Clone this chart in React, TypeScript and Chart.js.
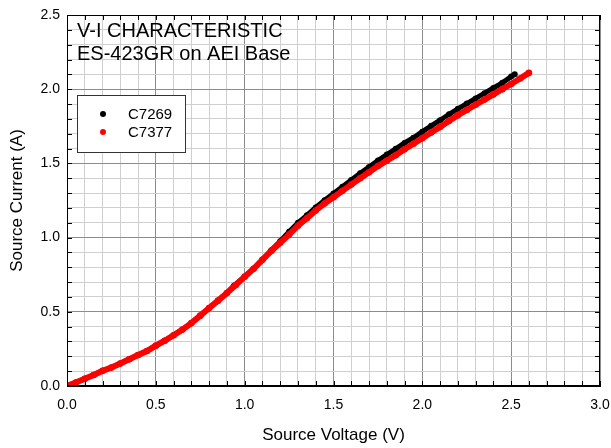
import React, { useEffect, useRef } from "react";
import { Chart, registerables } from "chart.js";

Chart.register(...registerables);

const titleLines = ["V-I CHARACTERISTIC", "ES-423GR on AEI Base"];
const xAxisTitle = "Source Voltage (V)";
const yAxisTitle = "Source Current (A)";
const seriesNames = ["C7269", "C7377"];
const seriesColors = ["#000000", "#ff0000"];

const voltsC7269 = [
  0, 0.05, 0.1, 0.15, 0.2, 0.25, 0.3, 0.35, 0.4, 0.45, 0.5, 0.55, 0.6, 0.65,
  0.7, 0.75, 0.8, 0.85, 0.9, 0.94, 1.0, 1.05, 1.1, 1.15, 1.2, 1.25, 1.3, 1.35,
  1.4, 1.45, 1.5, 1.55, 1.6, 1.65, 1.7, 1.75, 1.8, 1.85, 1.9, 1.95, 2.0, 2.05,
  2.1, 2.15, 2.2, 2.25, 2.3, 2.35, 2.4, 2.45, 2.5, 2.52,
];
const ampsC7269 = [
  0, 0.024, 0.049, 0.074, 0.102, 0.125, 0.152, 0.18, 0.209, 0.236, 0.272,
  0.305, 0.342, 0.38, 0.424, 0.474, 0.525, 0.575, 0.626, 0.676, 0.737, 0.79,
  0.852, 0.915, 0.975, 1.04, 1.1, 1.15, 1.203, 1.252, 1.297, 1.342, 1.388,
  1.433, 1.476, 1.52, 1.56, 1.598, 1.638, 1.673, 1.714, 1.753, 1.791, 1.831,
  1.868, 1.903, 1.938, 1.973, 2.008, 2.043, 2.085, 2.1,
];

const voltsC7377 = [
  0, 0.05, 0.1, 0.15, 0.2, 0.25, 0.3, 0.35, 0.4, 0.45, 0.5, 0.55, 0.6, 0.65,
  0.7, 0.75, 0.8, 0.85, 0.9, 0.95, 1.0, 1.05, 1.1, 1.15, 1.2, 1.25, 1.3, 1.35,
  1.4, 1.45, 1.5, 1.55, 1.6, 1.65, 1.7, 1.75, 1.8, 1.85, 1.9, 1.95, 2.0, 2.05,
  2.1, 2.15, 2.2, 2.25, 2.3, 2.35, 2.4, 2.45, 2.5, 2.55, 2.6,
];
const ampsC7377 = [
  0, 0.024, 0.049, 0.074, 0.102, 0.125, 0.152, 0.18, 0.209, 0.236, 0.272,
  0.305, 0.342, 0.38, 0.424, 0.474, 0.525, 0.575, 0.626, 0.68, 0.737, 0.79,
  0.85, 0.91, 0.965, 1.02, 1.08, 1.13, 1.183, 1.23, 1.272, 1.315, 1.357, 1.4,
  1.44, 1.482, 1.518, 1.555, 1.595, 1.632, 1.67, 1.708, 1.746, 1.786, 1.825,
  1.86, 1.895, 1.93, 1.965, 2.0, 2.035, 2.072, 2.11,
];

const xMajorTicks = [0, 0.5, 1.0, 1.5, 2.0, 2.5, 3.0];
const yMajorTicks = [0, 0.5, 1.0, 1.5, 2.0, 2.5];

const FONT = "'Liberation Sans', Arial, Helvetica, sans-serif";

const isMajor = (v: number, majors: number[]) =>
  majors.some((m) => Math.abs(m - v) < 1e-6);

const decorPlugin = {
  id: "decor",
  afterDraw(chart: any) {
    const { ctx, chartArea } = chart;
    const { left, right, top, bottom } = chartArea;
    const xs = chart.scales.x;
    const ys = chart.scales.y;
    ctx.save();
    // frame
    ctx.strokeStyle = "#000";
    ctx.lineWidth = 1;
    ctx.strokeRect(left + 0.5, top + 0.5, right - left - 1, bottom - top - 1);
    // inward ticks
    ctx.beginPath();
    const tl = 5;
    xs.ticks.forEach((t: any) => {
      const px = Math.round(xs.getPixelForValue(t.value)) + 0.5;
      ctx.moveTo(px, bottom);
      ctx.lineTo(px, bottom - tl);
      ctx.moveTo(px, top);
      ctx.lineTo(px, top + tl);
    });
    ys.ticks.forEach((t: any) => {
      const py = Math.round(ys.getPixelForValue(t.value)) + 0.5;
      ctx.moveTo(left, py);
      ctx.lineTo(left + tl, py);
      ctx.moveTo(right, py);
      ctx.lineTo(right - tl, py);
    });
    ctx.stroke();

    // title lines
    ctx.fillStyle = "#000";
    ctx.font = `20px ${FONT}`;
    ctx.textAlign = "left";
    ctx.textBaseline = "alphabetic";
    ctx.fillText(titleLines[0], left + 10, top + 22);
    ctx.fillText(titleLines[1], left + 10, top + 45);

    // legend box
    const bx = left + 10;
    const by = top + 80;
    const bw = 108;
    const bh = 57;
    ctx.fillStyle = "#fff";
    ctx.fillRect(bx, by, bw, bh);
    ctx.strokeStyle = "#333";
    ctx.lineWidth = 1;
    ctx.strokeRect(bx + 0.5, by + 0.5, bw, bh);
    ctx.font = `15px ${FONT}`;
    ctx.textBaseline = "middle";
    chart.data.datasets.forEach((ds: any, i: number) => {
      const cy = by + 19 + i * 18;
      ctx.fillStyle = ds.pointBackgroundColor;
      ctx.beginPath();
      ctx.arc(bx + 26, cy, 3, 0, Math.PI * 2);
      ctx.fill();
      ctx.fillStyle = "#000";
      ctx.fillText(ds.label, bx + 51, cy + 1);
    });

    // axis titles
    ctx.font = `17px ${FONT}`;
    ctx.fillStyle = "#000";
    ctx.textAlign = "center";
    ctx.textBaseline = "middle";
    ctx.fillText(xAxisTitle, (left + right) / 2, 435);
    ctx.translate(17, (top + bottom) / 2);
    ctx.rotate(-Math.PI / 2);
    ctx.fillText(yAxisTitle, 0, 0);
    ctx.restore();
  },
};

export default function App() {
  const canvasRef = useRef<HTMLCanvasElement | null>(null);

  useEffect(() => {
    document.body.style.margin = "0";
    const canvas = canvasRef.current;
    if (!canvas) return;
    const mk = (vs: number[], as: number[]) =>
      vs.map((v, i) => ({ x: v, y: as[i] }));
    const chart = new Chart(canvas, {
      type: "scatter",
      data: {
        datasets: [
          {
            label: seriesNames[0],
            data: mk(voltsC7269, ampsC7269),
            order: 2,
            showLine: true,
            borderColor: seriesColors[0],
            borderWidth: 5,
            pointRadius: 3,
            pointBorderWidth: 0,
            pointBackgroundColor: seriesColors[0],
          },
          {
            label: seriesNames[1],
            data: mk(voltsC7377, ampsC7377),
            order: 1,
            showLine: true,
            borderColor: seriesColors[1],
            borderWidth: 6,
            pointRadius: 3.3,
            pointBorderWidth: 0,
            pointBackgroundColor: seriesColors[1],
          },
        ],
      },
      options: {
        responsive: false,
        animation: false,
        devicePixelRatio: 1,
        layout: { padding: { top: 15, right: 11, left: 0, bottom: 0 } },
        plugins: {
          legend: { display: false },
          tooltip: { enabled: false },
          title: { display: false },
        },
        scales: {
          x: {
            type: "linear",
            min: 0,
            max: 3,
            ticks: {
              stepSize: 0.1,
              autoSkip: false,
              maxRotation: 0,
              padding: 11,
              color: "#000",
              font: { family: FONT, size: 14 },
              callback: (v: any) =>
                isMajor(Number(v), xMajorTicks) ? Number(v).toFixed(1) : "",
            },
            grid: {
              drawTicks: false,
              lineWidth: 1,
              color: (c: any) =>
                c.tick && isMajor(c.tick.value, xMajorTicks)
                  ? "#8c8c8c"
                  : "#cfcfcf",
            },
            border: { display: true, color: "#000" },
            afterFit: (s: any) => {
              s.height = 62;
              s.paddingRight = 0;
              s.paddingLeft = 0;
            },
          },
          y: {
            type: "linear",
            min: 0,
            max: 2.5,
            ticks: {
              stepSize: 0.1,
              autoSkip: false,
              padding: 7,
              color: "#000",
              font: { family: FONT, size: 14 },
              callback: (v: any) =>
                isMajor(Number(v), yMajorTicks) ? Number(v).toFixed(1) : "",
            },
            grid: {
              drawTicks: false,
              lineWidth: 1,
              color: (c: any) =>
                c.tick && isMajor(c.tick.value, yMajorTicks)
                  ? "#8c8c8c"
                  : "#cfcfcf",
            },
            border: { display: true, color: "#000" },
            afterFit: (s: any) => {
              s.width = 67;
              s.paddingTop = 0;
              s.paddingBottom = 0;
            },
          },
        },
      },
      plugins: [decorPlugin],
    });
    return () => chart.destroy();
  }, []);

  return (
    <div style={{ width: 611, height: 448 }}>
      <canvas ref={canvasRef} width={611} height={448} />
    </div>
  );
}
